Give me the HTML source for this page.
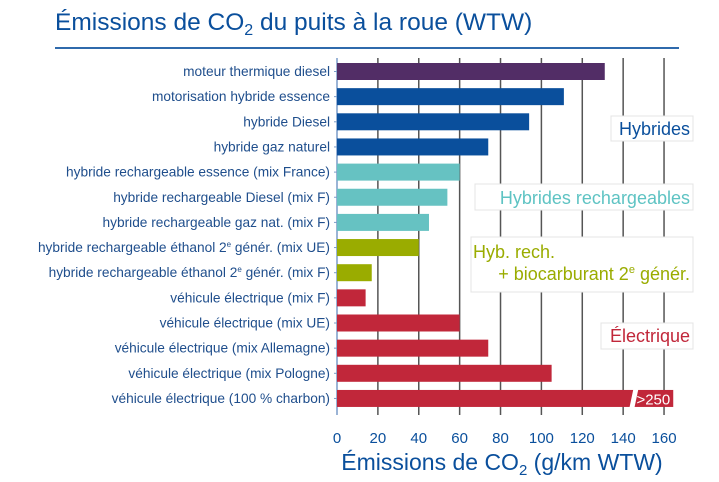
<!DOCTYPE html>
<html><head><meta charset="utf-8">
<style>
body{margin:0;background:#fff;width:719px;height:482px;overflow:hidden;font-family:"Liberation Sans",sans-serif}
svg{display:block}
</style></head>
<body>
<svg id="chart" width="719" height="482" font-family="Liberation Sans, sans-serif">
<text x="55" y="30" font-size="24.5" fill="#0a4f9c">Émissions de CO<tspan font-size="16" dy="5">2</tspan><tspan dy="-5"> du puits à la roue (WTW)</tspan></text>
<rect x="55" y="47" width="624" height="2" fill="#2f6aac"/>
<g id="grid"></g><g id="bars"></g><g id="labels"></g><g id="ticks"></g>
<text x="502" y="470" text-anchor="middle" font-size="23" fill="#0a4f9c">Émissions de CO<tspan font-size="15" dy="5">2</tspan><tspan dy="-5"> (g/km WTW)</tspan></text>
<g><rect x="611" y="116" width="82" height="25" fill="#fff" stroke="#e4e4e4"/><text x="690" y="135" text-anchor="end" font-size="18" fill="#0a4f9c">Hybrides</text></g>
<g><rect x="475" y="184" width="218" height="26" fill="#fff" stroke="#e4e4e4"/><text x="690" y="204" text-anchor="end" font-size="18" fill="#5ec3c3">Hybrides rechargeables</text></g>
<g><rect x="471" y="237" width="222" height="55" fill="#fff" stroke="#e4e4e4"/><text x="473" y="258" font-size="18" fill="#9aac00">Hyb. rech.</text><text x="690" y="280" text-anchor="end" font-size="18" fill="#9aac00">+ biocarburant 2<tspan font-size="11" dy="-7">e</tspan><tspan dy="7"> génér.</tspan></text></g>
<g><rect x="601" y="323" width="92" height="26" fill="#fff" stroke="#e4e4e4"/><text x="690" y="342" text-anchor="end" font-size="18" fill="#c1273a">Électrique</text></g>
</svg>
<script>
const categories=["moteur thermique diesel","motorisation hybride essence","hybride Diesel","hybride gaz naturel","hybride rechargeable essence (mix France)","hybride rechargeable Diesel (mix F)","hybride rechargeable gaz nat. (mix F)","hybride rechargeable éthanol 2|e| génér. (mix UE)","hybride rechargeable éthanol 2|e| génér. (mix F)","véhicule électrique (mix F)","véhicule électrique (mix UE)","véhicule électrique (mix Allemagne)","véhicule électrique (mix Pologne)","véhicule électrique (100 % charbon)"];
const values=[131,111,94,74,60,54,45,40,17,14,60,74,105,250];
const colors=["#522d66","#0a4f9c","#0a4f9c","#0a4f9c","#66c2c2","#66c2c2","#66c2c2","#9aac00","#9aac00","#c1273a","#c1273a","#c1273a","#c1273a","#c1273a"];
const ticks=[0,20,40,60,80,100,120,140,160];
const NS="http://www.w3.org/2000/svg";
const x0=337,pxPer=2.044,axisMax=164.5,y0=71.5,step=25.15,bh=17;
const xs=v=>x0+v*pxPer;
const ys=i=>y0+i*step;
function mk(t,a,p){const e=document.createElementNS(NS,t);for(const k in a)e.setAttribute(k,a[k]);p.appendChild(e);return e;}
const grid=document.getElementById('grid'),bars=document.getElementById('bars'),labels=document.getElementById('labels'),tk=document.getElementById('ticks');
ticks.forEach(t=>{
 if(t>0){const l=mk('line',{x1:xs(t),x2:xs(t),y1:58,y2:415,stroke:'#555','stroke-width':1.5},grid);
 
 }
 const tx=mk('text',{x:xs(t),y:443,'text-anchor':'middle','font-size':15,fill:'#0a4f9c'},tk);tx.textContent=t;
 
 
});
const ax=mk('line',{x1:x0,x2:x0,y1:58,y2:415,stroke:'#7a9cc8','stroke-width':1.5},grid);


categories.forEach((c,i)=>{
 const y=ys(i);
 const v=Math.min(values[i],axisMax);
 const r=mk('rect',{x:x0,y:y-bh/2,width:xs(v)-x0,height:bh,fill:colors[i]},bars);
 
 
 if(values[i]>axisMax){
  const bx=xs(145);
  const br=mk('polygon',{points:`${bx-4},${y+bh/2+1} ${bx},${y-bh/2-1} ${bx+5},${y-bh/2-1} ${bx+1},${y+bh/2+1}`,fill:'#fff'},bars);
  
  
  const vt=mk('text',{x:xs(v)-3,y:y+6,'text-anchor':'end','font-size':15,fill:'#fff'},bars);vt.textContent='>'+values[i];
  
  
 }
 const t=mk('text',{x:330,y:y+4.5,'text-anchor':'end','font-size':13.7,fill:'#1f4e8c'},labels);
 const parts=c.split('|');
 if(parts.length===3){t.appendChild(document.createTextNode(parts[0]));const s=mk('tspan',{'font-size':8,dy:-5},t);s.textContent=parts[1];const s2=mk('tspan',{dy:5},t);s2.textContent=parts[2];}
 else t.textContent=c;
 
 
 const tm=mk('line',{x1:x0-3,x2:x0,y1:y,y2:y,stroke:'#7a9cc8'},grid);
 
 
});
</script>
</body></html>
